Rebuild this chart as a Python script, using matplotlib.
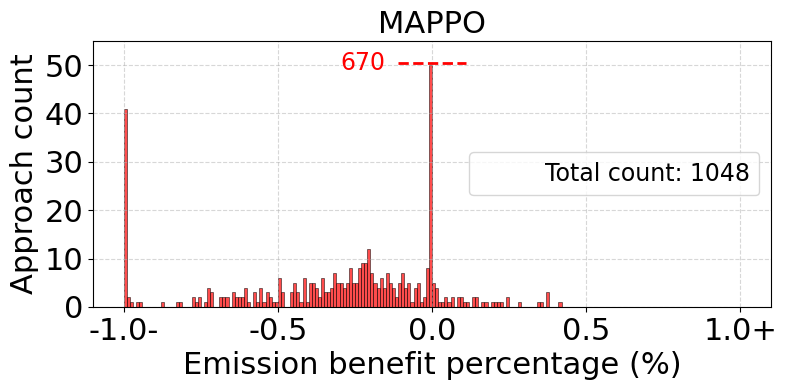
import numpy as np
import matplotlib.pyplot as plt

# histogram of emission benefit, bins of 0.01 starting at -1.0
bin_start = -1.0
bin_width = 0.01
counts = [
    41, 2, 1, 0, 1, 1, 0, 0, 0, 0,     # -1.00 .. -0.91
    0, 0, 1, 0, 0, 0, 0, 1, 1, 0,      # -0.90 .. -0.81
    0, 0, 2, 1, 2, 0, 1, 4, 3, 0,      # -0.80 .. -0.71
    0, 2, 2, 2, 0, 3, 2, 2, 2, 4,      # -0.70 .. -0.61
    1, 0, 3, 1, 4, 1, 3, 2, 1, 1,      # -0.60 .. -0.51
    6, 3, 0, 0, 3, 5, 3, 1, 6, 1,      # -0.50 .. -0.41
    5, 5, 4, 2, 6, 3, 3, 4, 7, 5,      # -0.40 .. -0.31
    5, 4, 5, 8, 5, 5, 8, 9, 9, 12,     # -0.30 .. -0.21
    7, 5, 4, 6, 4, 7, 5, 4, 2, 5,      # -0.20 .. -0.11
    7, 4, 5, 1, 4, 5, 1, 2, 8, 670,    # -0.10 .. -0.01
    5, 4, 1, 1, 2, 1, 2, 0, 2, 2,      #  0.00 ..  0.09
    1, 1, 0, 2, 2, 0, 1, 1, 0, 1,      #  0.10 ..  0.19
    1, 1, 1, 0, 2, 0, 0, 0, 1, 0,      #  0.20 ..  0.29
    0, 0, 0, 0, 1, 1, 0, 3, 0, 0,      #  0.30 ..  0.39
    0, 1,                              #  0.40 ..  0.41
]
cap = 50
total_count = 1048

xtick_values = [-1.0, -0.5, 0.0, 0.5, 1.0]
xtick_labels = ["-1.0-", "-0.5", "0.0", "0.5", "1.0+"]
ytick_values = [0, 10, 20, 30, 40, 50]

counts = np.array(counts)
edges = bin_start + bin_width * np.arange(len(counts) + 1)
shown = np.minimum(counts, cap)

fig, ax = plt.subplots(figsize=(7.87, 3.9), dpi=100)
fig.subplots_adjust(left=0.118, right=0.980, top=0.895, bottom=0.213)

ax.hist(edges[:-1], bins=edges, weights=shown, color='red', alpha=0.7,
        edgecolor='black', linewidth=0.5)

# mark the clipped bar with its real count
for i in np.where(counts > cap)[0]:
    x = edges[i]
    ax.plot([x - 0.1, x + 0.12], [cap + 0.5, cap + 0.5], 'r--', linewidth=2)
    ax.text(x - 0.14, cap + 0.5, str(counts[i]), color='red', fontsize=17,
            ha='right', va='center')

ax.plot([], [], ' ', label=f'Total count: {total_count}')
ax.legend(loc='center right', fontsize=17)

ax.set_xlim(-1.1, 1.1)
ax.set_ylim(0, 55)
ax.set_xticks(xtick_values)
ax.set_xticklabels(xtick_labels)
ax.set_yticks(ytick_values)
ax.tick_params(labelsize=22)
ax.set_xlabel('Emission benefit percentage (%)', fontsize=22)
ax.set_ylabel('Approach count', fontsize=22)
ax.set_title('MAPPO', fontsize=22)
ax.grid(True, linestyle='--', alpha=0.5)

plt.savefig('out.png')
